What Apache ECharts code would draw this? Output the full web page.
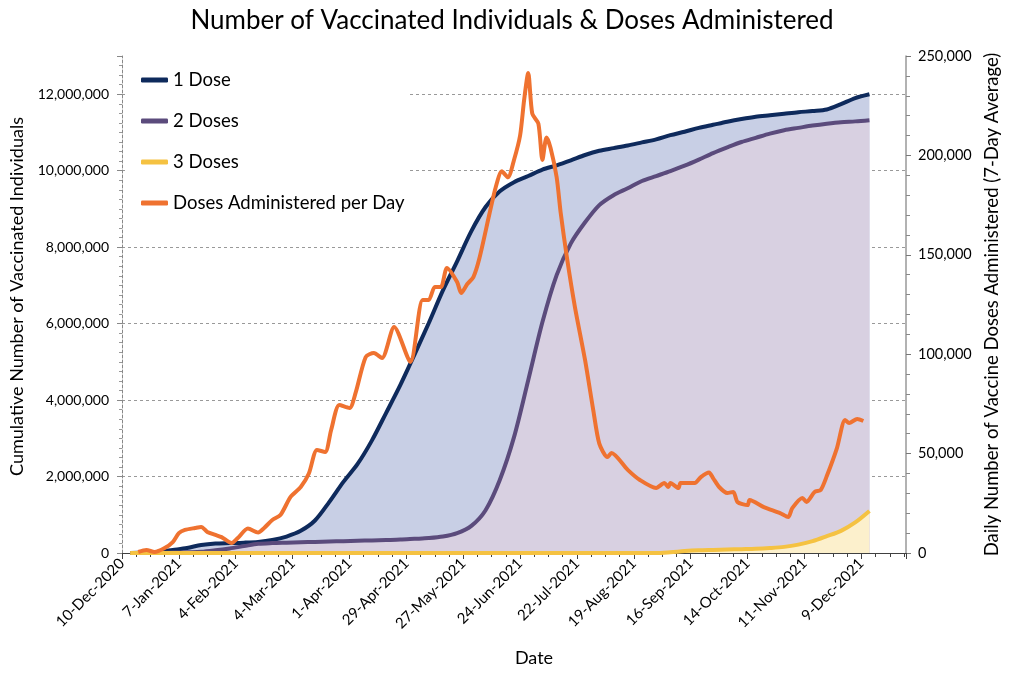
<!DOCTYPE html>
<html>
<head>
<meta charset="utf-8">
<script src="https://cdn.jsdelivr.net/npm/echarts@6/dist/echarts.min.js"></script>
<style>html,body{margin:0;padding:0;background:#fff}#chart{width:1024px;height:699px}</style>
</head>
<body>
<div id="chart"></div>
<script>
// ---- data ----
const weeklyDates = ['2020-12-14','2020-12-21','2020-12-28','2021-01-04','2021-01-11','2021-01-18','2021-01-25','2021-02-01','2021-02-08','2021-02-15','2021-02-22','2021-03-01','2021-03-08','2021-03-15','2021-03-22','2021-03-29','2021-04-05','2021-04-12','2021-04-19','2021-04-26','2021-05-03','2021-05-10','2021-05-17','2021-05-24','2021-05-31','2021-06-07','2021-06-14','2021-06-21','2021-06-28','2021-07-05','2021-07-12','2021-07-19','2021-07-26','2021-08-02','2021-08-09','2021-08-16','2021-08-23','2021-08-30','2021-09-06','2021-09-13','2021-09-20','2021-09-27','2021-10-04','2021-10-11','2021-10-18','2021-10-25','2021-11-01','2021-11-08','2021-11-15','2021-11-22','2021-11-29','2021-12-06','2021-12-13'];
const oneDose = [0,10000,30000,80000,130000,210000,250000,260000,270000,290000,340000,430000,580000,850000,1330000,1860000,2330000,2940000,3660000,4390000,5190000,6010000,6870000,7630000,8420000,9050000,9460000,9700000,9860000,10030000,10140000,10270000,10410000,10520000,10590000,10660000,10740000,10820000,10930000,11020000,11120000,11200000,11280000,11350000,11410000,11450000,11490000,11530000,11560000,11600000,11740000,11900000,12000000];
const twoDoses = [0,0,0,10000,20000,30000,70000,120000,180000,240000,260000,270000,280000,290000,300000,310000,320000,330000,340000,350000,370000,390000,430000,520000,710000,1120000,1910000,3030000,4520000,6040000,7270000,8100000,8650000,9100000,9360000,9540000,9730000,9860000,9990000,10130000,10290000,10460000,10610000,10750000,10860000,10970000,11060000,11120000,11180000,11230000,11270000,11290000,11320000];
const threeDoses = [0,0,0,0,0,0,0,0,0,0,0,0,0,0,0,0,0,0,0,0,0,0,0,0,0,0,0,0,0,0,0,0,0,0,0,0,0,0,20000,50000,70000,80000,90000,100000,110000,130000,160000,220000,310000,440000,580000,800000,1100000];
const dailyDates = ['2020-12-18','2020-12-22','2020-12-26','2020-12-31','2021-01-04','2021-01-07','2021-01-10','2021-01-15','2021-01-18','2021-01-21','2021-01-25','2021-01-28','2021-02-02','2021-02-05','2021-02-10','2021-02-15','2021-02-18','2021-02-22','2021-02-26','2021-03-03','2021-03-08','2021-03-12','2021-03-16','2021-03-20','2021-03-23','2021-03-27','2021-04-01','2021-04-04','2021-04-09','2021-04-13','2021-04-17','2021-04-23','2021-05-01','2021-05-07','2021-05-10','2021-05-13','2021-05-16','2021-05-19','2021-05-24','2021-05-26','2021-05-29','2021-06-01','2021-06-04','2021-06-09','2021-06-12','2021-06-15','2021-06-18','2021-06-21','2021-06-24','2021-06-26','2021-06-28','2021-06-30','2021-07-03','2021-07-05','2021-07-07','2021-07-09','2021-07-12','2021-07-14','2021-07-17','2021-07-21','2021-07-26','2021-07-30','2021-08-02','2021-08-06','2021-08-08','2021-08-16','2021-08-22','2021-08-30','2021-09-03','2021-09-05','2021-09-06','2021-09-10','2021-09-11','2021-09-18','2021-09-21','2021-09-25','2021-09-27','2021-09-30','2021-10-04','2021-10-07','2021-10-09','2021-10-14','2021-10-15','2021-10-22','2021-10-30','2021-11-03','2021-11-05','2021-11-10','2021-11-12','2021-11-16','2021-11-19','2021-11-22','2021-11-27','2021-12-01','2021-12-03','2021-12-07','2021-12-10'];
const dailyDoses = [500,1500,500,2500,5500,10000,11600,12600,13100,10600,9100,8000,5000,7500,12300,10300,12600,16600,19100,28200,33200,40000,51800,50800,62000,74400,72900,80500,98600,100600,98100,113700,96100,127300,127300,133800,133800,143400,136300,130800,135300,138800,148400,171000,184000,192000,189000,197700,210000,228000,241400,221000,216000,197700,209000,203700,189000,171000,149000,123700,97000,72000,55000,48300,50300,41800,36700,32700,35200,33200,35200,32700,35200,35200,38200,40500,37700,33200,30200,30700,25700,24100,26700,23100,20100,18100,22600,27700,25700,30700,31700,38700,52800,66900,65400,67400,66400];
const xTickLabels = ['10-Dec-2020','7-Jan-2021','4-Feb-2021','4-Mar-2021','1-Apr-2021','29-Apr-2021','27-May-2021','24-Jun-2021','22-Jul-2021','19-Aug-2021','16-Sep-2021','14-Oct-2021','11-Nov-2021','9-Dec-2021'];

// ---- build ----
const ORIGIN = Date.parse('2020-12-10T00:00:00Z');
const dayOf = s => Math.round((Date.parse(s + 'T00:00:00Z') - ORIGIN) / 86400000);
const pairs = (dates, vals) => dates.map((d, i) => [dayOf(d), vals[i]]);
const FONT = 'Lato';
const fmt = v => Math.round(v).toLocaleString('en-US');

const chart = echarts.init(document.getElementById('chart'), null, {renderer: 'canvas'});
chart.setOption({
  animation: false,
  backgroundColor: '#fff',
  textStyle: {fontFamily: FONT, color: '#000'},
  title: {
    text: 'Number of Vaccinated Individuals & Doses Administered',
    left: 'center', top: 3,
    textStyle: {fontFamily: FONT, fontSize: 26, fontWeight: 'normal', color: '#000'}
  },
  legend: {
    orient: 'vertical', left: 128, top: 62,
    padding: [8, 5, 8, 13],
    backgroundColor: '#fff',
    icon: 'roundRect', itemWidth: 27, itemHeight: 5, itemGap: 21,
    data: ['1 Dose', '2 Doses', '3 Doses', 'Doses Administered per Day'],
    textStyle: {fontFamily: FONT, fontSize: 18.5, color: '#000', lineHeight: 20}
  },
  grid: {left: 122, right: 118, top: 56, bottom: 146},
  xAxis: {
    type: 'value', min: 0, max: 386, interval: 28,
    name: 'Date', nameLocation: 'middle', nameGap: 96,
    nameTextStyle: {fontFamily: FONT, fontSize: 18, color: '#000', padding: [0, 0, 0, 40]},
    axisLine: {show: true, lineStyle: {color: '#404040', width: 1}},
    axisTick: {show: true, length: 6, lineStyle: {color: '#404040'}},
    minorTick: {show: true, splitNumber: 4, length: 4, lineStyle: {color: '#404040'}},
    splitLine: {show: false},
    axisLabel: {
      rotate: 45, fontFamily: FONT, fontSize: 15, color: '#000', margin: 8,
      showMaxLabel: false,
      formatter: v => xTickLabels[Math.round(v / 28)] || ''
    }
  },
  yAxis: [{
    type: 'value', min: 0, max: 13000000, interval: 2000000,
    name: 'Cumulative Number of Vaccinated Individuals', nameLocation: 'middle', nameGap: 96,
    nameTextStyle: {fontFamily: FONT, fontSize: 18, color: '#000', padding: [0, 0, 0, 16]},
    axisLine: {show: true, lineStyle: {color: '#888', type: [3, 2]}},
    axisTick: {show: true, length: 5, lineStyle: {color: '#888'}},
    minorTick: {show: true, splitNumber: 8, length: 3, lineStyle: {color: '#999'}},
    splitLine: {show: true, showMaxLine: false, lineStyle: {color: '#999', type: [3, 3], width: 1}},
    axisLabel: {fontFamily: FONT, fontSize: 14, color: '#000', margin: 13, showMaxLabel: false, formatter: fmt}
  }, {
    type: 'value', min: 0, max: 250000, interval: 50000, position: 'right',
    name: 'Daily Number of Vaccine Doses Administered (7-Day Average)', nameLocation: 'middle', nameGap: 76,
    nameRotate: 90,
    nameTextStyle: {fontFamily: FONT, fontSize: 18.5, color: '#000'},
    axisLine: {show: true, lineStyle: {color: '#999', width: 1.5}},
    axisTick: {show: true, length: 5, lineStyle: {color: '#777'}},
    minorTick: {show: true, splitNumber: 5, length: 4, lineStyle: {color: '#888'}},
    splitLine: {show: false},
    axisLabel: {fontFamily: FONT, fontSize: 14.5, color: '#000', margin: 12, formatter: fmt}
  }],
  series: [{
    name: '1 Dose', type: 'line', yAxisIndex: 0,
    data: pairs(weeklyDates, oneDose),
    showSymbol: false, smooth: 0.3, color: '#0e2a5c',
    lineStyle: {width: 4, color: '#0e2a5c'},
    areaStyle: {color: '#c8cfe5', opacity: 1}
  }, {
    name: '2 Doses', type: 'line', yAxisIndex: 0,
    data: pairs(weeklyDates, twoDoses),
    showSymbol: false, smooth: 0.3, color: '#5b4b7c',
    lineStyle: {width: 4, color: '#5b4b7c'},
    areaStyle: {color: '#d8d0e1', opacity: 1}
  }, {
    name: '3 Doses', type: 'line', yAxisIndex: 0,
    data: pairs(weeklyDates, threeDoses),
    showSymbol: false, smooth: 0.3, color: '#f5c242',
    lineStyle: {width: 4, color: '#f5c242'},
    areaStyle: {color: '#fcf0cc', opacity: 1}
  }, {
    name: 'Doses Administered per Day', type: 'line', yAxisIndex: 1,
    data: pairs(dailyDates, dailyDoses),
    showSymbol: false, smooth: 0.25, color: '#ef7230',
    lineStyle: {width: 4, color: '#ef7230'}
  }]
});
</script>
</body>
</html>
